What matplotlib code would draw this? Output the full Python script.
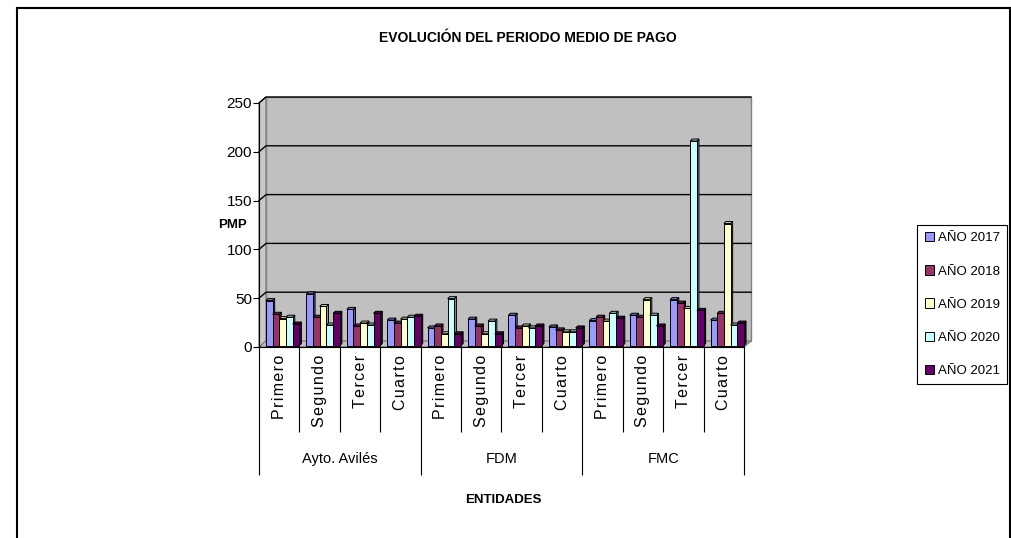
import numpy as np
import matplotlib
matplotlib.use('Agg')
import matplotlib.pyplot as plt
from matplotlib.patches import Polygon
from matplotlib.lines import Line2D

plt.rcParams['font.family'] = ['Liberation Sans', 'DejaVu Sans']

# datos
grupos = ['Ayto. Avilés', 'FDM', 'FMC']
trimestres = ['Primero', 'Segundo', 'Tercer', 'Cuarto']
series = ['AÑO 2017', 'AÑO 2018', 'AÑO 2019', 'AÑO 2020', 'AÑO 2021']
pmp_2017 = [46, 53, 37, 26, 18, 27, 31, 19, 25.5, 31, 47, 26]
pmp_2018 = [32, 29, 20, 23, 20, 20, 18, 16, 29, 29, 43.5, 33]
pmp_2019 = [27.5, 40, 23, 27, 12, 12, 20, 14, 25, 47, 38, 125]
pmp_2020 = [29, 21, 21, 29, 48, 25, 18, 14, 33, 31, 209.5, 21]
pmp_2021 = [22, 33, 33, 30, 12, 12, 20, 18, 28, 20, 36, 23]
valores = [pmp_2017, pmp_2018, pmp_2019, pmp_2020, pmp_2021]
colores = ['#9999FF', '#993366', '#FFFFCC', '#CCFFFF', '#660066']

W, H = 1012, 538
f = plt.figure(figsize=(W / 100, H / 100), dpi=100)

# marco exterior
f.add_artist(Line2D([17 / W, 17 / W], [0, 1 - 8 / H], color='black', lw=1.5))
f.add_artist(Line2D([17 / W, 1011 / W], [1 - 8 / H, 1 - 8 / H], color='black', lw=1.5))
f.add_artist(Line2D([1010.5 / W, 1010.5 / W], [0, 1 - 8 / H], color='black', lw=1.5))

x0, x1, y0, y1 = 259, 744, 347, 103
ax = f.add_axes([x0 / W, 1 - y0 / H, (x1 - x0) / W, (y0 - y1) / H])
n = 12
ax.set_xlim(0, n)
ax.set_ylim(0, 250)
ax.patch.set_visible(False)

px_x = (x1 - x0) / n
px_y = (y0 - y1) / 250.0
WX, WY = 7 / px_x, 6 / px_y      # profundidad de la pared
BX, BY = 3.5 / px_x, 1.5 / px_y  # plano de las columnas
DX, DY = 2 / px_x, 2 / px_y      # profundidad de columna

# paredes y suelo
ax.add_patch(Polygon([(WX, WY), (n + WX, WY), (n + WX, 250 + WY), (WX, 250 + WY)],
                     closed=True, fc='#C0C0C0', ec='#808080', lw=1, zorder=0, clip_on=False))
ax.add_patch(Polygon([(0, 0), (WX, WY), (WX, 250 + WY), (0, 250)],
                     closed=True, fc='#C8C8C8', ec='#808080', lw=1, zorder=0, clip_on=False))
ax.add_patch(Polygon([(0, 0), (n, 0), (n + WX, WY), (WX, WY)],
                     closed=True, fc='#C0C0C0', ec='#808080', lw=1, zorder=0.5, clip_on=False))
for v in range(50, 251, 50):
    ax.plot([0, WX, n + WX], [v, v + WY, v + WY], color='black', lw=1, zorder=0.8, clip_on=False)

gap = 3.45 / px_x
w = (1 - 2 * gap) / 5
x = np.arange(n)

def sombra(c, k):
    r, g, b = matplotlib.colors.to_rgb(c)
    return (r * k, g * k, b * k)

for j, (vals, c) in enumerate(zip(valores, colores)):
    xs = x + gap + j * w + BX
    bars = ax.bar(xs, vals, width=w, bottom=BY, align='edge', color=c,
                  edgecolor='black', lw=0.7, label=series[j], clip_on=False)
    for i, b in enumerate(bars):
        z = 2 + (i * 5 + j) * 0.01
        b.set_zorder(z + 0.005)
        xl, xr = b.get_x(), b.get_x() + b.get_width()
        top = BY + vals[i]
        ax.add_patch(Polygon([(xr, BY), (xr + DX, BY + DY), (xr + DX, top + DY), (xr, top)],
                             closed=True, fc=sombra(c, 0.6), ec='black', lw=0.7, zorder=z, clip_on=False))
        ax.add_patch(Polygon([(xl, top), (xl + DX, top + DY), (xr + DX, top + DY), (xr, top)],
                             closed=True, fc=sombra(c, 0.8), ec='black', lw=0.7, zorder=z, clip_on=False))

# ejes
for s in ['top', 'right']:
    ax.spines[s].set_visible(False)
ax.spines['left'].set_zorder(1)
ax.spines['bottom'].set_zorder(1)
ax.set_yticks(range(0, 251, 50))
ax.tick_params(axis='y', length=4, width=0.8, labelsize=11, pad=1)
ax.set_xticks([0, 4, 8, 12])
ax.set_xticks([1, 2, 3, 5, 6, 7, 9, 10, 11], minor=True)
ax.tick_params(axis='x', which='major', length=128 * 0.72, width=0.8, labelbottom=False)
ax.tick_params(axis='x', which='minor', length=85 * 0.72, width=0.8, labelbottom=False)

tr = ax.get_xaxis_transform()
for i in range(n):
    etiqueta = '\u200a'.join(trimestres[i % 4])
    ax.text(i + 0.5, -8 / (y0 - y1), etiqueta, transform=tr, rotation=90,
            ha='center', va='top', fontsize=11.5)
for g, nombre in enumerate(grupos):
    ax.text(g * 4 + 2, -112 / (y0 - y1), nombre, transform=tr, ha='center', va='center', fontsize=10.5)

f.text(528 / W, 1 - 38 / H, 'EVOLUCIÓN DEL PERIODO MEDIO DE PAGO', ha='center', va='center',
       fontsize=10, fontweight='bold')
f.text(247 / W, 1 - 225 / H, 'PMP', ha='right', va='center', fontsize=9.5, fontweight='bold')
f.text(503 / W, 1 - 500 / H, 'ENTIDADES', ha='center', va='center', fontsize=9.5, fontweight='bold')

h, l = ax.get_legend_handles_labels()
leg = f.legend(h, l, loc='upper right', bbox_to_anchor=(1007 / W, 1 - 225 / H), fontsize=9.5,
               frameon=True, fancybox=False, edgecolor='black', framealpha=1,
               handlelength=0.7, handleheight=0.7, handletextpad=0.3, labelspacing=1.58,
               borderpad=0.55, borderaxespad=0)
leg.get_frame().set_linewidth(0.8)

f.savefig('out.png', dpi=100)
